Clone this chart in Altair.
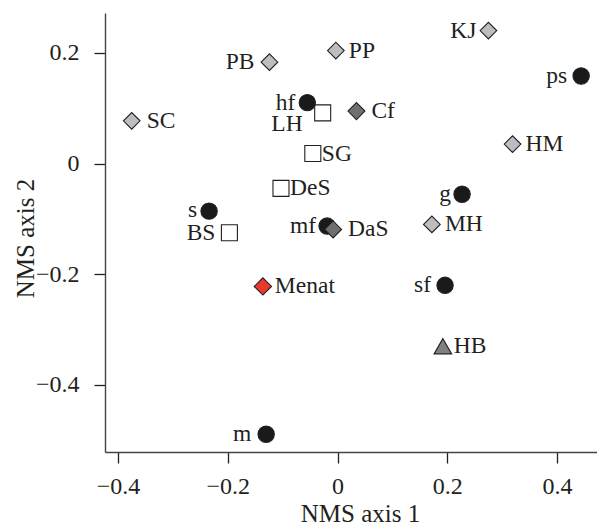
import altair as alt
import pandas as pd

# ---- data ----
sites = ["BS", "DeS", "SG", "LH",
         "s", "hf", "mf", "g", "ps", "sf", "m",
         "SC", "PB", "PP", "KJ", "HM", "MH",
         "Cf", "DaS", "Menat", "HB"]
axis1 = [-0.197, -0.103, -0.045, -0.027,
         -0.234, -0.055, -0.019, 0.227, 0.444, 0.196, -0.130,
         -0.375, -0.124, -0.003, 0.275, 0.319, 0.172,
         0.0345, -0.008, -0.136, 0.192]
axis2 = [-0.125, -0.045, 0.018, 0.0915,
         -0.086, 0.110, -0.113, -0.0555, 0.158, -0.220, -0.489,
         0.077, 0.183, 0.204, 0.240, 0.035, -0.110,
         0.0946, -0.119, -0.222, -0.330]
group = ["square", "square", "square", "square",
         "circle", "circle", "circle", "circle", "circle", "circle", "circle",
         "light", "light", "light", "light", "light", "light",
         "dark", "dark", "red", "triangle"]

df = pd.DataFrame({"site": sites, "x": axis1, "y": axis2, "group": group})

FONT = "'Liberation Serif', 'Times New Roman', Times, serif"
INK = "#231f20"

groups_dom = ["square", "circle", "light", "dark", "red", "triangle"]

xs = alt.Scale(domain=[-0.4237, 0.4729], nice=False, zero=False)
ys = alt.Scale(domain=[-0.521, 0.2718], nice=False, zero=False)

label_expr = "datum.value == 0 ? '0' : replace(format(datum.value, '.1f'), '-', '\u2013')"

base = alt.Chart(df)

points = base.mark_point(filled=True, opacity=1, stroke=INK, strokeWidth=1.1).encode(
    x=alt.X("x:Q", scale=xs,
            axis=alt.Axis(values=[-0.4, -0.2, 0, 0.2, 0.4], labelExpr=label_expr,
                          title="NMS axis 1", titleX=255, titleY=69,
                          titleBaseline="alphabetic",
                          labelBaseline="alphabetic", labelPadding=30)),
    y=alt.Y("y:Q", scale=ys,
            axis=alt.Axis(values=[-0.4, -0.2, 0, 0.2], labelExpr=label_expr,
                          title="NMS axis 2", titleX=-72, titleY=225,
                          titleBaseline="alphabetic", labelPadding=15)),
    shape=alt.Shape("group:N", legend=None,
                    scale=alt.Scale(domain=groups_dom,
                                    range=["square", "circle", "diamond", "diamond",
                                           "diamond", "triangle-up"])),
    fill=alt.Fill("group:N", legend=None,
                  scale=alt.Scale(domain=groups_dom,
                                  range=["#ffffff", "#1a1a1a", "#bcbdc0", "#6f6f71",
                                         "#e8392c", "#808083"])),
    size=alt.Size("group:N", legend=None,
                  scale=alt.Scale(domain=groups_dom,
                                  range=[256, 310, 400, 400, 400, 330])),
)

# label placement: (align, dx, dy)
placement = {
    "BS": ("right", -14, 0), "DeS": ("left", 9, 0), "SG": ("left", 9, 0),
    "LH": ("right", -20, 11),
    "s": ("right", -12, -1), "hf": ("right", -12, 0), "mf": ("right", -11, 0),
    "g": ("right", -11, 0), "ps": ("right", -14, 0), "sf": ("right", -14, 0),
    "m": ("right", -15, 0),
    "SC": ("left", 15, 0), "PB": ("right", -15, 0), "PP": ("left", 13, 0),
    "KJ": ("right", -12, 0), "HM": ("left", 13, 0), "MH": ("left", 13, 0),
    "Cf": ("left", 15, 0), "DaS": ("left", 15, 0), "Menat": ("left", 12, 0),
    "HB": ("left", 11, 0),
}

combos = {}
for s, p in placement.items():
    combos.setdefault(p, []).append(s)

text_layers = []
for (align, dx, dy), members in combos.items():
    text_layers.append(
        base.transform_filter(alt.FieldOneOfPredicate(field="site", oneOf=members))
        .mark_text(align=align, dx=dx, dy=dy, baseline="middle",
                   font=FONT, fontSize=23.5, color=INK)
        .encode(x=alt.X("x:Q", scale=xs), y=alt.Y("y:Q", scale=ys), text="site:N")
    )

chart = alt.layer(points, *text_layers).properties(
    width=492, height=439,
    autosize=alt.AutoSizeParams(type="none"),
    padding={"left": 97, "top": 5, "right": 0, "bottom": 74},
).configure_view(stroke=None).configure_axis(
    grid=False,
    domainColor="#444", domainWidth=1.4,
    tickColor=INK, tickWidth=1.3, tickSize=11,
    labelFont=FONT, labelFontSize=24, labelColor=INK,
    titleFont=FONT, titleFontSize=25, titleColor=INK, titleFontWeight="normal",
)

chart.save("out.html", embed_options={"renderer": "svg", "actions": False})
